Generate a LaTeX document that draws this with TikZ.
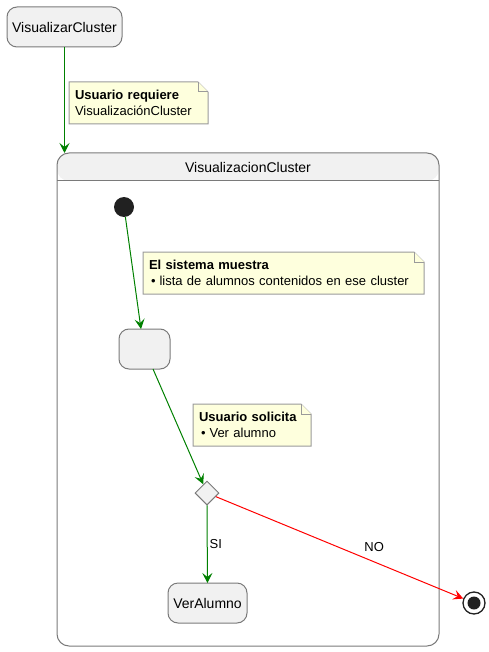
\documentclass[tikz,border=0pt]{standalone}
\usepackage{fontspec}
\setmainfont{Liberation Sans}
\usetikzlibrary{arrows.meta,shapes.geometric,backgrounds}

\definecolor{statefill}{HTML}{F1F1F1}
\definecolor{stateline}{HTML}{7A7A7A}
\definecolor{notefill}{HTML}{FEFFDD}
\definecolor{noteline}{HTML}{9A9A9A}
\definecolor{flowgreen}{RGB}{0,128,0}
\definecolor{flowred}{RGB}{255,0,0}

\tikzset{
	state/.style={draw=stateline, fill=statefill, line width=1pt, rounded corners=10pt,
		minimum height=40pt, inner sep=0pt, outer sep=0pt, font=\fontsize{14}{16}\selectfont},
	note/.style={anchor=north west, align=left, inner xsep=6pt, inner ysep=0pt, outer sep=0pt,
		minimum height=42pt, font=\fontsize{13}{16}\selectfont},
	notebox/.style={draw=noteline, fill=notefill, line width=1pt},
	flow/.style={draw=flowgreen, line width=1pt, -{Stealth[length=10pt,width=10pt,inset=4pt]}},
	flowno/.style={flow, draw=flowred},
	lbl/.style={font=\fontsize{13}{16}\selectfont, text=black}
}

\newcommand{\notefold}[1]{%
	\begin{scope}[on background layer]
		\filldraw[notebox] (#1.south west) -- (#1.north west) -- ([xshift=-10pt]#1.north east)
			-- ([yshift=-10pt]#1.north east) -- (#1.south east) -- cycle;
		\draw[notebox] ([xshift=-10pt]#1.north east) |- ([yshift=-10pt]#1.north east);
	\end{scope}}

\begin{document}
\begin{tikzpicture}[x=1pt,y=-1pt]
	\useasboundingbox (0,0) rectangle (488,652);

	% outer state and composite
	\node[state, minimum width=115pt] (vis) at (64.5,27) {VisualizarCluster};
	\node[draw=stateline, line width=1pt, rounded corners=12pt, minimum width=382pt, minimum height=493pt,
		inner sep=0pt, outer sep=0pt,
		path picture={\fill[statefill] (path picture bounding box.north west) rectangle ([yshift=-28pt]path picture bounding box.north east);}]
		(comp) at (248,399.5) {};
	\draw[stateline, line width=1pt] ([yshift=-28pt]comp.north west) -- ([yshift=-28pt]comp.north east);
	\node[font=\fontsize{14}{16}\selectfont] (comptitle) at ([yshift=-14pt]comp.north) {VisualizacionCluster};

	% inner states
	\node[circle, fill=black!87, minimum size=20pt, inner sep=0pt] (init) at (124,207) {};
	\node[state, minimum width=51pt] (empty) at (144.5,349) {};
	\node[diamond, draw=stateline, fill=statefill, line width=1pt, minimum width=24pt, minimum height=24pt,
		inner sep=0pt] (choice) at (207,493) {};
	\node[state, minimum width=79pt] (ver) at (207.5,603) {VerAlumno};
	\node[circle, draw=black!87, line width=1.3pt, minimum size=22pt, inner sep=0pt] (final) at (474,603) {};
	\fill[black!87] (final) circle (6.5pt);

	% notes
	\node[note, text width=127pt] (n1) at (69,82) {\textbf{Usuario requiere}\\VisualizaciónCluster};
	\notefold{n1}
	\node[note, text width=269pt] (n2) at (143,252) {\textbf{El sistema muestra}\\\hspace{2pt}•\hspace{4pt}lista de alumnos contenidos en ese cluster};
	\notefold{n2}
	\node[note, text width=106pt] (n3) at (193,404) {\textbf{Usuario solicita}\\\hspace{2pt}•\hspace{4pt}Ver alumno};
	\notefold{n3}

	% transitions
	\draw[flow] (vis) -- (vis |- comp.north);
	\draw[flow] (init) -- ([xshift=-3.5pt]empty.north);
	\draw[flow] ([xshift=8.5pt]empty.south) -- (choice);
	\draw[flow] (choice) -- node[lbl, right, inner sep=2pt] {SI} (ver);
	\draw[flowno] (choice) -- node[lbl, pos=0.64, above=6pt] {NO} (final);
\end{tikzpicture}
\end{document}
